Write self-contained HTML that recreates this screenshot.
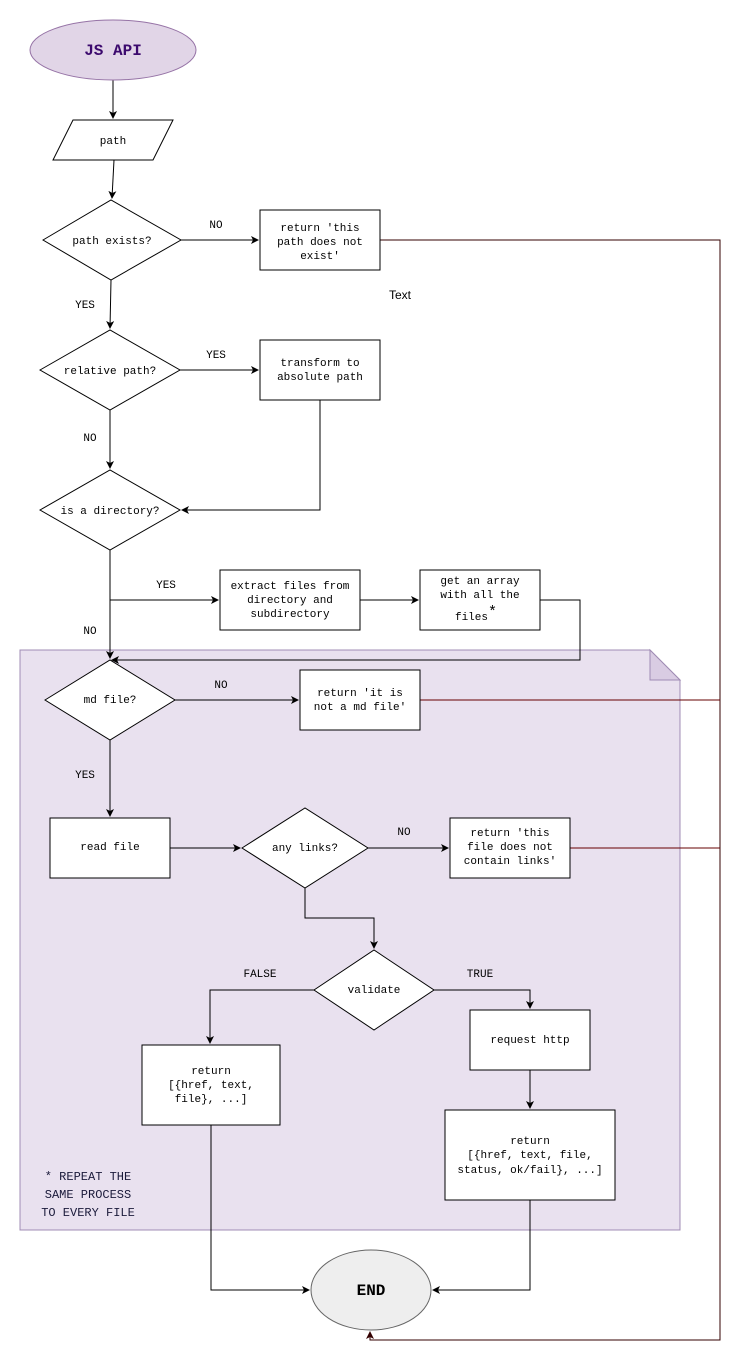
<!DOCTYPE html>
<html><head><meta charset="utf-8"><style>
html,body{margin:0;padding:0;background:#fff;}
svg{display:block;}
text{font-family:"Liberation Mono",monospace;font-size:11px;fill:#000;text-anchor:middle;}
.l{font-size:11px;}
</style></head><body>
<svg width="749" height="1369" viewBox="0 0 749 1369" xmlns="http://www.w3.org/2000/svg">
<defs>
<marker id="a" markerWidth="8" markerHeight="8" refX="7" refY="4" orient="auto" markerUnits="userSpaceOnUse">
<path d="M0,0 L8,4 L0,8 L2,4 Z" fill="#000"/></marker>
<marker id="ar" markerWidth="8" markerHeight="8" refX="7" refY="4" orient="auto" markerUnits="userSpaceOnUse">
<path d="M0,0 L8,4 L0,8 L2,4 Z" fill="#330000"/></marker>
</defs>
<!-- container -->
<path d="M20,650 L650,650 L680,680 L680,1230 L20,1230 Z" fill="#e9e1ef" stroke="#a08cb4"/>
<path d="M650,650 L650,680 L680,680 Z" fill="#d9cce3" stroke="#a08cb4"/>

<g fill="none" stroke="#000" stroke-width="1">
<!-- connectors -->
<path d="M113,80 V118" marker-end="url(#a)"/>
<path d="M114,160 L112,198" marker-end="url(#a)"/>
<path d="M181,240 H258" marker-end="url(#a)"/>
<path d="M111,280 L110,328" marker-end="url(#a)"/>
<path d="M180,370 H258" marker-end="url(#a)"/>
<path d="M320,400 V510 H182" marker-end="url(#a)"/>
<path d="M110,410 V468" marker-end="url(#a)"/>
<path d="M110,550 V658" marker-end="url(#a)"/>
<path d="M110,600 H218" marker-end="url(#a)"/>
<path d="M360,600 H418" marker-end="url(#a)"/>
<path d="M540,600 H580 V660 H112" marker-end="url(#a)"/>
<path d="M175,700 H298" marker-end="url(#a)"/>
<path d="M110,740 V816" marker-end="url(#a)"/>
<path d="M170,848 H240" marker-end="url(#a)"/>
<path d="M368,848 H448" marker-end="url(#a)"/>
<path d="M305,888 V918 H374 V948" marker-end="url(#a)"/>
<path d="M314,990 H210 V1043" marker-end="url(#a)"/>
<path d="M434,990 H530 V1008" marker-end="url(#a)"/>
<path d="M530,1070 V1108" marker-end="url(#a)"/>
<path d="M211,1125 V1290 H309" marker-end="url(#a)"/>
<path d="M530,1200 V1290 H433" marker-end="url(#a)"/>
<path d="M380,240 H720 V1340 H370 V1332" stroke="#330000" marker-end="url(#ar)"/>
<path d="M420,700 H720" stroke="#660000"/>
<path d="M570,848 H720" stroke="#660000"/>
</g>

<!-- shapes -->
<ellipse cx="113" cy="50" rx="83" ry="30" fill="#e1d5e7" stroke="#9673a6"/>
<path d="M73,120 H173 L153,160 H53 Z" fill="#fff" stroke="#000"/>
<g fill="#fff" stroke="#000">
<path d="M43,240 L111,200 L181,240 L111,280 Z"/>
<rect x="260" y="210" width="120" height="60"/>
<path d="M40,370 L110,330 L180,370 L110,410 Z"/>
<rect x="260" y="340" width="120" height="60"/>
<path d="M40,510 L110,470 L180,510 L110,550 Z"/>
<rect x="220" y="570" width="140" height="60"/>
<rect x="420" y="570" width="120" height="60"/>
<path d="M45,700 L110,660 L175,700 L110,740 Z"/>
<rect x="300" y="670" width="120" height="60"/>
<rect x="50" y="818" width="120" height="60"/>
<path d="M242,848 L305,808 L368,848 L305,888 Z"/>
<rect x="450" y="818" width="120" height="60"/>
<path d="M314,990 L374,950 L434,990 L374,1030 Z"/>
<rect x="142" y="1045" width="138" height="80"/>
<rect x="470" y="1010" width="120" height="60"/>
<rect x="445" y="1110" width="170" height="90"/>
</g>
<ellipse cx="371" cy="1290" rx="60" ry="40" fill="#eeeeee" stroke="#666"/>

<!-- text -->
<text x="113" y="55" style="font-size:16px;font-weight:bold;fill:#3c0a6e">JS API</text>
<text x="113" y="144">path</text>
<text x="112" y="244">path exists?</text>
<text x="216" y="228">NO</text>
<text x="320" y="231">return 'this</text>
<text x="320" y="245">path does not</text>
<text x="320" y="259">exist'</text>
<text x="400" y="299" style="font-family:'Liberation Sans',sans-serif;font-size:12px">Text</text>
<text x="85" y="308">YES</text>
<text x="110" y="374">relative path?</text>
<text x="216" y="358">YES</text>
<text x="320" y="366">transform to</text>
<text x="320" y="380">absolute path</text>
<text x="90" y="441">NO</text>
<text x="110" y="514">is a directory?</text>
<text x="166" y="588">YES</text>
<text x="90" y="634">NO</text>
<text x="290" y="589">extract files from</text>
<text x="290" y="603">directory and</text>
<text x="290" y="617">subdirectory</text>
<text x="480" y="584">get an array</text>
<text x="480" y="598">with all the</text>
<text x="476" y="620">files<tspan style="font-size:15px" dy="-4">*</tspan></text>
<text x="110" y="703">md file?</text>
<text x="221" y="688">NO</text>
<text x="360" y="696">return 'it is</text>
<text x="360" y="710">not a md file'</text>
<text x="85" y="778">YES</text>
<text x="110" y="850">read file</text>
<text x="305" y="851">any links?</text>
<text x="404" y="835">NO</text>
<text x="510" y="836">return 'this</text>
<text x="510" y="850">file does not</text>
<text x="510" y="864">contain links'</text>
<text x="374" y="993">validate</text>
<text x="260" y="977">FALSE</text>
<text x="480" y="977">TRUE</text>
<text x="211" y="1074">return</text>
<text x="211" y="1088">[{href, text,</text>
<text x="211" y="1102">file}, ...]</text>
<text x="530" y="1043">request http</text>
<text x="530" y="1144">return</text>
<text x="530" y="1158">[{href, text, file,</text>
<text x="530" y="1173">status, ok/fail}, ...]</text>
<text x="88" y="1180" style="font-size:12px;fill:#1a1a3a">* REPEAT THE</text>
<text x="88" y="1198" style="font-size:12px;fill:#1a1a3a">SAME PROCESS</text>
<text x="88" y="1216" style="font-size:12px;fill:#1a1a3a">TO EVERY FILE</text>
<text x="371" y="1295" style="font-size:16px;font-weight:bold">END</text>
</svg>
</body></html>
